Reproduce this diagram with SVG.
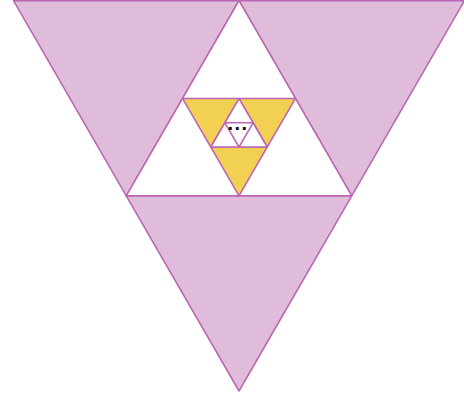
<svg xmlns="http://www.w3.org/2000/svg" width="464" height="398" viewBox="0 0 464 398">
<style>
.p{fill:#dfbcd9;stroke:#bb64b3;stroke-width:1.5;stroke-linejoin:round}
.y{fill:#f2d052;stroke:#bb64b3;stroke-width:1.5;stroke-linejoin:round}
.w{fill:#ffffff;stroke:#bb64b3;stroke-width:1.5;stroke-linejoin:round}
.t{font-family:"Liberation Sans",Arial,sans-serif;font-weight:bold;font-size:20px;fill:#111111;letter-spacing:1.4px}
</style>
<rect width="464" height="398" fill="#ffffff"/>
<g id="level1">
<polygon class="p" points="13.5,0.7 239,0.7 126.25,195.8"/>
<polygon class="p" points="239,0.7 464.5,0.7 351.75,195.8"/>
<polygon class="p" points="126.25,195.8 351.75,195.8 239,391"/>
<polygon class="w" points="239,0.7 126.25,195.8 351.75,195.8"/>
</g>
<g id="level2">
<polygon class="y" points="182.6,98.6 239,98.6 210.8,147"/>
<polygon class="y" points="239,98.6 295.4,98.6 267.2,147"/>
<polygon class="y" points="210.8,147 267.2,147 239,195.8"/>
<polygon class="w" points="239,98.6 210.8,147 267.2,147"/>
</g>
<g id="level3">
<polygon class="w" points="224.9,122.8 253.1,122.8 239,147"/>
<text class="t" x="227.6" y="130.4">...</text>
</g>
</svg>
